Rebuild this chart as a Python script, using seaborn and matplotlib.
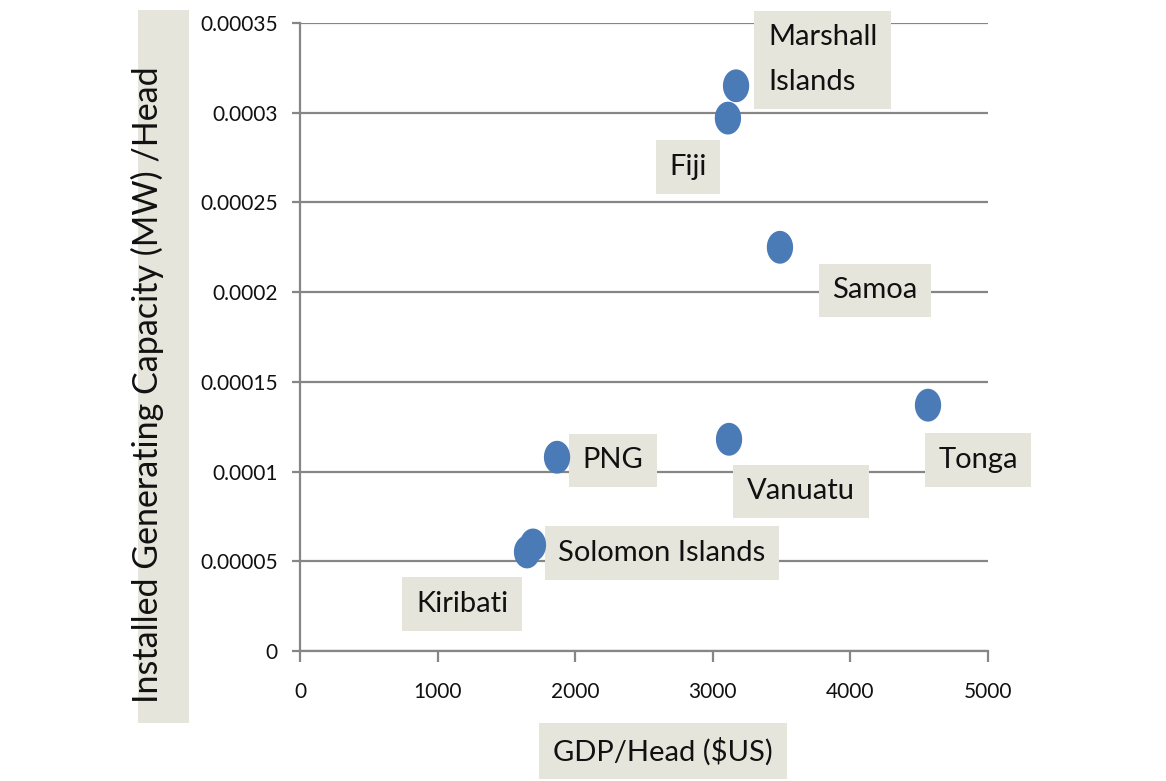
import numpy as np
import pandas as pd
import matplotlib
matplotlib.use("Agg")
import matplotlib.pyplot as plt
from matplotlib.patches import Rectangle
import seaborn as sns

# ---- data ----
countries = ["Marshall\nIslands", "Fiji", "Samoa", "Tonga", "Vanuatu", "PNG",
             "Solomon Islands", "Kiribati"]
gdp_per_head = [3169, 3110, 3488, 4564, 3118, 1868, 1693, 1650]
capacity_per_head = [0.000315, 0.000297, 0.000225, 0.000137, 0.000118,
                     0.000108, 0.0000591, 0.0000552]
x_ticks = [0, 1000, 2000, 3000, 4000, 5000]
y_ticks = [0, 0.00005, 0.0001, 0.00015, 0.0002, 0.00025, 0.0003, 0.00035]
y_tick_labels = ["0", "0.00005", "0.0001", "0.00015", "0.0002", "0.00025",
                 "0.0003", "0.00035"]
x_label = "GDP/Head ($US)"
y_label = "Installed Generating Capacity (MW) /Head"

# label placement (offset in pixels from the point, alignment)
label_style = {
    "Marshall\nIslands": (32, 26, "left"),
    "Fiji": (-40, -49, "center"),
    "Samoa": (95, -43, "center"),
    "Tonga": (50, -55, "center"),
    "Vanuatu": (72, -52, "center"),
    "PNG": (56, -3, "center"),
    "Solomon Islands": (129, -8, "center"),
    "Kiribati": (-65, -52, "center"),
}

df = pd.DataFrame({"country": countries, "gdp": gdp_per_head,
                   "cap": capacity_per_head})

sns.set_style("white")
plt.rcParams["font.family"] = ["Lato", "DejaVu Sans"]

W, H = 1166, 781
fig = plt.figure(figsize=(W / 100, H / 100), dpi=100)
ax = fig.add_axes([300 / W, 1 - 651 / H, 688 / W, 628 / H])

BOX = "#E6E5DC"
GRID = "#868686"
DOT = "#4A7BB7"
TXT = "#111111"

t = np.linspace(0, 2 * np.pi, 60)
ellipse = list(zip(0.8 * np.cos(t), np.sin(t)))

sns.scatterplot(data=df, x="gdp", y="cap", ax=ax, marker=ellipse, s=560,
                color=DOT, edgecolor="none", linewidth=0, zorder=4,
                legend=False)

ax.set_xlim(0, 5000)
ax.set_ylim(0, 0.00035)
ax.set_xticks(x_ticks)
ax.set_xticklabels([str(v) for v in x_ticks])
ax.set_yticks(y_ticks)
ax.set_yticklabels(y_tick_labels)

ax.yaxis.grid(True, color=GRID, linewidth=1.6)
ax.xaxis.grid(False)
ax.set_axisbelow(True)
for side in ["top", "right"]:
    ax.spines[side].set_visible(False)
for side in ["left", "bottom"]:
    ax.spines[side].set_color(GRID)
    ax.spines[side].set_linewidth(1.6)
ax.tick_params(axis="y", direction="out", length=6, width=1.6, color=GRID,
               pad=10, labelsize=15, labelcolor=TXT)
ax.tick_params(axis="x", direction="out", length=8, width=1.6, color=GRID,
               pad=14, labelsize=15, labelcolor=TXT)
ax.tick_params(axis="both", which="both", left=True, bottom=True)

for name, gx, cy in zip(countries, gdp_per_head, capacity_per_head):
    dx, dy, ha = label_style[name]
    ax.annotate(name, xy=(gx, cy), xytext=(dx, dy), textcoords="offset pixels",
                ha=ha, va="center", fontsize=21, color=TXT,
                linespacing=1.9, zorder=3,
                bbox=dict(boxstyle="square,pad=0.47", facecolor=BOX,
                          edgecolor="none"))

ax.set_xlabel(x_label, fontsize=21, color=TXT,
              bbox=dict(boxstyle="square,pad=0.47", facecolor=BOX,
                        edgecolor="none"))
ax.xaxis.set_label_coords((663 - 300) / 688, (651 - 737) / 628)

# y-axis title with its background panel
fig.patches.append(Rectangle((138 / W, 1 - 723 / H), 51 / W, 713 / H,
                             transform=fig.transFigure, facecolor=BOX,
                             edgecolor="none", zorder=-5))
ax.set_ylabel(y_label, fontsize=24.5, color=TXT)
ax.yaxis.set_label_coords((164 - 300) / 688, (651 - 385) / 628)

fig.savefig("out.png", dpi=100)
